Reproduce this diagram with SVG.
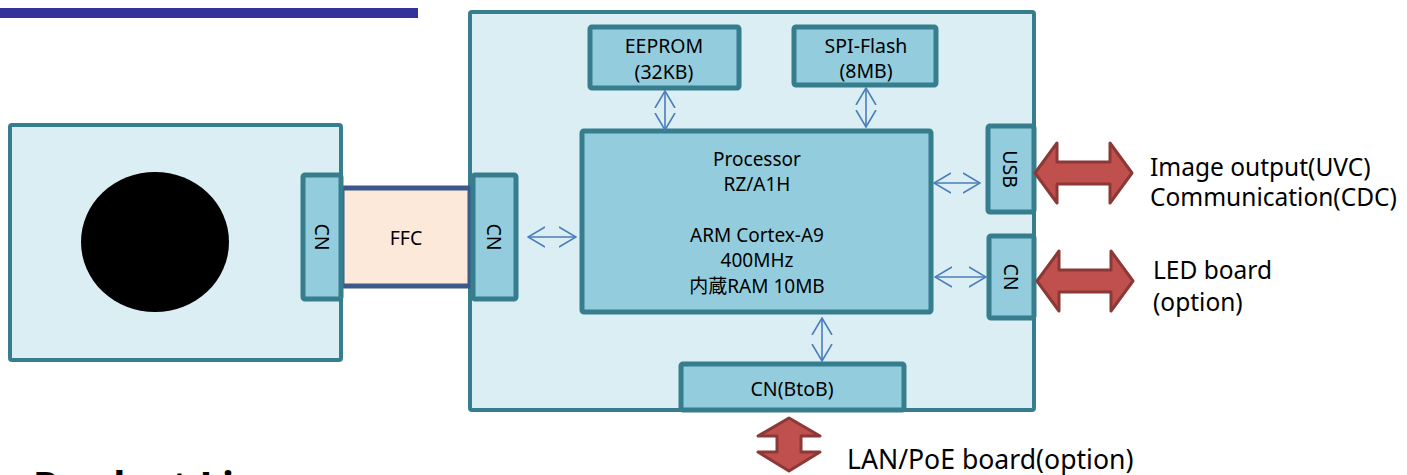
<svg xmlns="http://www.w3.org/2000/svg" width="1407" height="475" viewBox="0 0 1407 475">
<defs>
<style>
.board{fill:#DBEEF3;stroke:#367E8E;stroke-width:4}
.blk{fill:#93CDDD;stroke:#367E8E;stroke-width:5}
.ffc{fill:#FDE9D9;stroke:#3B5A8A;stroke-width:5}
.t{font-family:"Noto Sans","Noto Sans CJK JP",sans-serif;fill:#000}
.s18{font-size:19.5px;text-anchor:middle}
.p19{font-size:19px;text-anchor:middle}
.lbl{font-size:24.5px}
.lan{font-size:26.6px}
.bl{stroke:#4A7EBB;stroke-width:1.6;fill:none;marker-start:url(#ah);marker-end:url(#ah)}
.red{fill:#C0504D;stroke:#8C3836;stroke-width:3;stroke-linejoin:round}
</style>
<marker id="ah" viewBox="0 0 18 22" markerWidth="18" markerHeight="22" refX="17" refY="11" markerUnits="userSpaceOnUse" orient="auto-start-reverse">
<path d="M0,1 L17,11 L0,21" fill="none" stroke="#4A7EBB" stroke-width="1.6"/>
</marker>
</defs>
<rect width="1407" height="475" fill="#FFFFFF"/>
<rect x="0" y="8" width="418" height="10" fill="#333399"/>
<text class="t" x="33" y="500" font-size="40" font-weight="bold">Product Li</text>

<g id="sensor-board">
<rect class="board" x="10" y="125" width="331" height="235" rx="2"/>
<ellipse cx="155" cy="242" rx="74" ry="70" fill="#000"/>
</g>
<g id="main-board">
<rect class="board" x="470" y="12" width="564" height="398" rx="2"/>
</g>
<g id="ffc">
<rect class="ffc" x="342" y="188" width="128" height="98"/>
<text class="t s18" x="406" y="245">FFC</text>
</g>
<g id="cn-left">
<rect class="blk" x="303" y="175" width="38" height="124" rx="2"/>
<text class="t s18" transform="translate(322,237) rotate(90)" y="7">CN</text>
</g>
<g id="cn-main">
<rect class="blk" x="473" y="175" width="43" height="124" rx="2"/>
<text class="t s18" transform="translate(494,237) rotate(90)" y="7">CN</text>
</g>
<g id="eeprom">
<rect class="blk" x="590" y="27" width="149" height="61" rx="2"/>
<text class="t s18" x="664" y="53">EEPROM</text>
<text class="t s18" x="664" y="79">(32KB)</text>
</g>
<g id="spi-flash">
<rect class="blk" x="794" y="27" width="142" height="58" rx="2"/>
<text class="t s18" x="866" y="53">SPI-Flash</text>
<text class="t s18" x="866" y="78">(8MB)</text>
</g>
<g id="processor">
<rect class="blk" x="582" y="131" width="349" height="181" rx="2"/>
<text class="t p19" x="757" y="166">Processor</text>
<text class="t p19" x="757" y="191">RZ/A1H</text>
<text class="t p19" x="757" y="242">ARM Cortex-A9</text>
<text class="t p19" x="757" y="267">400MHz</text>
<text class="t p19" x="757" y="293">内蔵RAM 10MB</text>
</g>
<g id="usb">
<rect class="blk" x="988" y="126" width="46" height="86" rx="2"/>
<text class="t s18" transform="translate(1010,169) rotate(90)" y="7">USB</text>
</g>
<g id="cn-led">
<rect class="blk" x="989" y="236" width="45" height="82" rx="2"/>
<text class="t s18" transform="translate(1011,277) rotate(90)" y="7">CN</text>
</g>
<g id="cn-btob">
<rect class="blk" x="681" y="364" width="223" height="46" rx="2"/>
<text class="t s18" x="792" y="396">CN(BtoB)</text>
</g>

<g id="connectors">
<line class="bl" x1="528" y1="237" x2="576" y2="237"/>
<line class="bl" x1="665" y1="91" x2="665" y2="130"/>
<line class="bl" x1="866" y1="88" x2="866" y2="127"/>
<line class="bl" x1="934" y1="183" x2="980" y2="183"/>
<line class="bl" x1="935" y1="277" x2="986" y2="277"/>
<line class="bl" x1="822" y1="318" x2="822" y2="361"/>
<path class="red" d="M1035,173 L1057,143 L1057,162 L1110,162 L1110,143 L1132,173 L1110,203 L1110,184 L1057,184 L1057,203 Z"/>
<path class="red" d="M1037,281 L1059,251 L1059,270 L1111,270 L1111,251 L1133,281 L1111,311 L1111,292 L1059,292 L1059,311 Z"/>
<path class="red" d="M789,418 L820,436 L801,436 L801,452 L820,452 L789,471 L758,452 L777,452 L777,436 L758,436 Z"/>
</g>

<g id="labels">
<text class="t lbl" x="1150" y="176">Image output(UVC)</text>
<text class="t lbl" x="1150" y="206">Communication(CDC)</text>
<text class="t lbl" x="1153" y="279">LED board</text>
<text class="t lbl" x="1153" y="311">(option)</text>
<text class="t lan" x="847" y="469">LAN/PoE board(option)</text>
</g>
</svg>
